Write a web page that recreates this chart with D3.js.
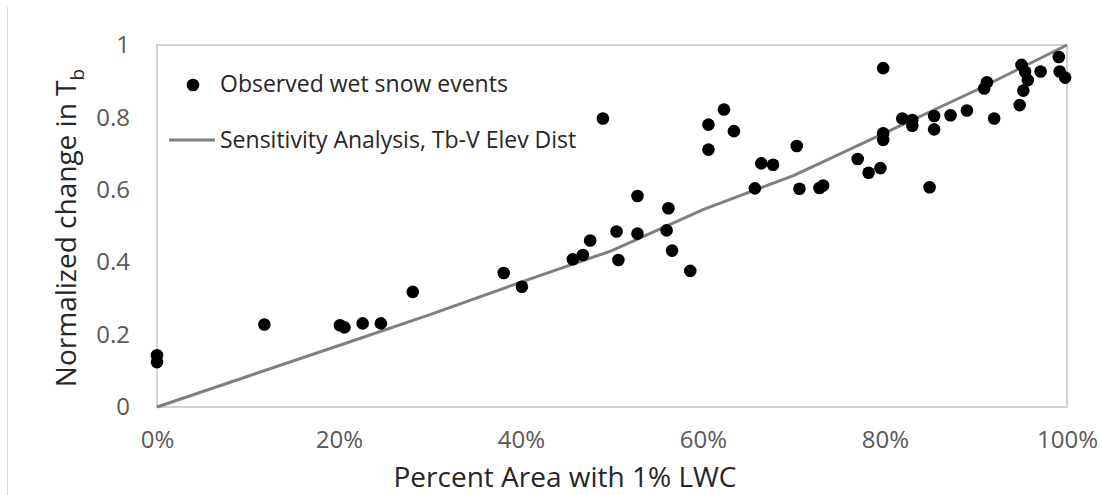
<!DOCTYPE html>
<html>
<head>
<meta charset="utf-8">
<script src="https://cdn.jsdelivr.net/npm/d3@7"></script>
<style>
  body { margin: 0; background: #fff; }
  text { font-family: "Open Sans", "DejaVu Sans", sans-serif; }
</style>
</head>
<body>
<div id="chart"></div>
<script>
var width = 1102, height = 495;
var margin = {top: 45, left: 157, right: 35, bottom: 88};

// observed wet snow events (fraction of area, normalized change in Tb)
var obsArea = [0, 0, 0.118, 0.201, 0.206, 0.226, 0.246, 0.281, 0.381, 0.401,
  0.457, 0.468, 0.476, 0.490, 0.505, 0.507, 0.528, 0.528, 0.560, 0.562,
  0.566, 0.586, 0.606, 0.606, 0.623, 0.634, 0.657, 0.664, 0.677, 0.703,
  0.706, 0.728, 0.732, 0.770, 0.782, 0.795, 0.798, 0.798, 0.798, 0.819,
  0.830, 0.830, 0.849, 0.854, 0.854, 0.872, 0.890, 0.920, 0.912, 0.909,
  0.950, 0.954, 0.957, 0.952, 0.948, 0.971, 0.991, 0.992, 0.998];
var obsTb = [0.143, 0.124, 0.228, 0.226, 0.220, 0.231, 0.231, 0.318, 0.370, 0.332,
  0.408, 0.420, 0.460, 0.797, 0.485, 0.406, 0.583, 0.479, 0.488, 0.549,
  0.432, 0.376, 0.711, 0.780, 0.822, 0.762, 0.604, 0.673, 0.669, 0.721,
  0.603, 0.605, 0.612, 0.685, 0.647, 0.660, 0.936, 0.756, 0.738, 0.797,
  0.793, 0.777, 0.607, 0.804, 0.767, 0.806, 0.819, 0.797, 0.897, 0.880,
  0.945, 0.926, 0.903, 0.874, 0.834, 0.927, 0.967, 0.927, 0.910];

// sensitivity analysis curve
var sensArea = [0, 0.1, 0.2, 0.3, 0.4, 0.5, 0.6, 0.7, 0.8, 0.9, 1.0];
var sensTb = [0, 0.085, 0.17, 0.255, 0.345, 0.432, 0.545, 0.64, 0.757, 0.875, 1.0];

var xTicks = [0, 0.2, 0.4, 0.6, 0.8, 1.0];
var yTicks = [0, 0.2, 0.4, 0.6, 0.8, 1];

var svg = d3.select("#chart").append("svg")
    .attr("width", width)
    .attr("height", height);

// chart area edge on the left
svg.append("line")
    .attr("x1", 7.5).attr("x2", 7.5)
    .attr("y1", 7).attr("y2", height)
    .attr("stroke", "#d9d9d9").attr("stroke-width", 1);

var x = d3.scaleLinear().domain([0, 1]).range([margin.left, width - margin.right]);
var y = d3.scaleLinear().domain([0, 1]).range([height - margin.bottom, margin.top]);

// plot area border
svg.append("rect")
    .attr("x", x(0)).attr("y", y(1))
    .attr("width", x(1) - x(0)).attr("height", y(0) - y(1))
    .attr("fill", "none")
    .attr("stroke", "#c4c4c4").attr("stroke-width", 1.5);

var xAxis = svg.append("g")
    .attr("transform", "translate(0," + (y(0) + 21) + ")")
    .call(d3.axisBottom(x).tickValues(xTicks).tickSize(0).tickFormat(d3.format(".0%")));
xAxis.select(".domain").remove();
xAxis.selectAll("text").attr("fill", "#595959").style("font-size", "24px")
    .style("font-family", "'Open Sans', sans-serif");

var yAxis = svg.append("g")
    .attr("transform", "translate(133,0)")
    .call(d3.axisLeft(y).tickValues(yTicks).tickSize(0).tickFormat(function(d) { return d3.format("")(d); }));
yAxis.select(".domain").remove();
yAxis.selectAll("text").attr("fill", "#595959").style("font-size", "24px")
    .style("font-family", "'Open Sans', sans-serif");

// axis titles
svg.append("text")
    .attr("x", 565).attr("y", 487)
    .attr("text-anchor", "middle")
    .attr("fill", "#262626")
    .style("font-size", "28px")
    .text("Percent Area with 1% LWC");

var yt = svg.append("text")
    .attr("transform", "translate(76,228) rotate(-90)")
    .attr("text-anchor", "middle")
    .attr("fill", "#262626")
    .style("font-size", "28px");
yt.append("tspan").text("Normalized change in T");
yt.append("tspan").attr("dy", 8).style("font-size", "19px").text("b");

// sensitivity line
var line = d3.line()
    .x(function(d) { return x(d[0]); })
    .y(function(d) { return y(d[1]); });

svg.append("path")
    .datum(d3.zip(sensArea, sensTb))
    .attr("d", line)
    .attr("fill", "none")
    .attr("stroke", "#7f7f7f")
    .attr("stroke-width", 3);

// observed points
svg.append("g").selectAll("circle")
    .data(d3.zip(obsArea, obsTb))
    .enter().append("circle")
    .attr("cx", function(d) { return x(d[0]); })
    .attr("cy", function(d) { return y(d[1]); })
    .attr("r", 6.3)
    .attr("fill", "#000");

// legend
var legend = svg.append("g");
legend.append("circle").attr("cx", 193).attr("cy", 85).attr("r", 6.3).attr("fill", "#000");
legend.append("text").attr("x", 220).attr("y", 92)
    .attr("fill", "#262626").style("font-size", "23px")
    .text("Observed wet snow events");
legend.append("line").attr("x1", 169).attr("x2", 215).attr("y1", 140).attr("y2", 140)
    .attr("stroke", "#7f7f7f").attr("stroke-width", 3);
legend.append("text").attr("x", 220).attr("y", 148)
    .attr("fill", "#262626").style("font-size", "23px")
    .text("Sensitivity Analysis, Tb-V Elev Dist");
</script>
</body>
</html>
